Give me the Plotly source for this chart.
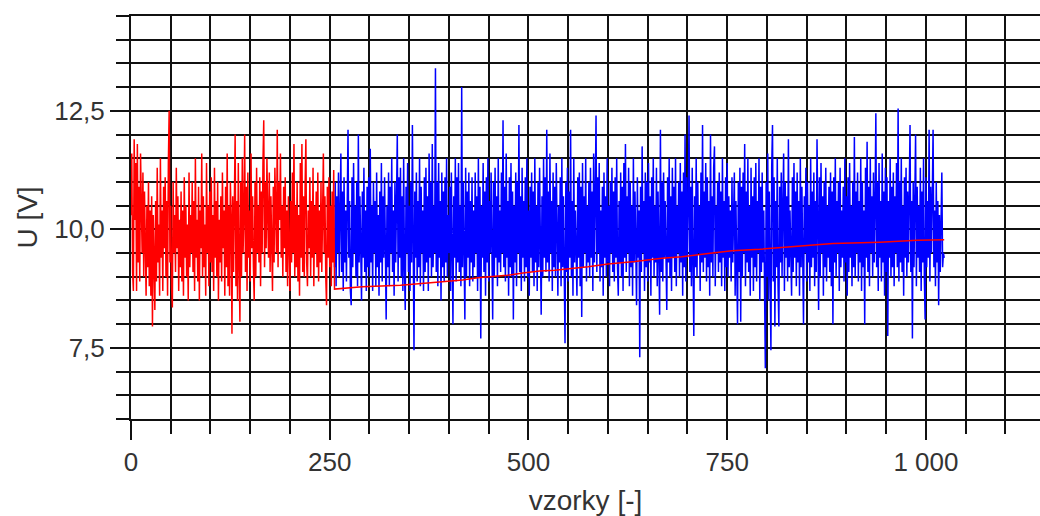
import plotly.graph_objects as go

# Red measured signal, samples 0..255
red_noise = [
    10.3, 11.6, 9.1, 8.7, 11.9, 10.2, 11.4, 8.7, 11.8, 9.3, 10.9, 8.9, 11.6, 10.1, 9.5, 11.2,
    9.0, 10.8, 9.6, 8.6, 10.5, 9.2, 11.0, 8.8, 10.4, 8.6, 10.7, 7.95, 10.3, 9.1, 8.3, 10.6,
    8.9, 11.3, 9.3, 10.1, 8.6, 11.5, 9.4, 10.4, 8.7, 10.9, 9.6, 11.1, 9.0, 10.6, 8.6, 11.4,
    12.5, 9.3, 10.5, 8.8, 8.35, 11.0, 9.5, 10.3, 9.1, 11.3, 9.6, 10.7, 8.7, 10.2, 9.2, 10.8,
    8.9, 10.4, 8.6, 11.1, 9.4, 10.5, 9.0, 10.1, 8.5, 11.2, 9.2, 10.3, 9.5, 11.0, 9.1, 10.6,
    8.7, 11.5, 9.4, 10.2, 8.9, 10.9, 8.5, 10.4, 9.6, 11.6, 9.0, 10.7, 9.2, 10.1, 8.6, 11.4,
    9.5, 10.5, 8.8, 10.8, 9.3, 11.1, 9.1, 10.3, 8.7, 11.3, 9.4, 10.6, 9.0, 11.0, 8.5, 10.2,
    9.3, 10.7, 8.9, 11.2, 9.6, 10.4, 8.6, 10.9, 9.2, 11.6, 8.8, 10.5, 8.6, 11.0, 10.3, 7.8,
    10.7, 9.1, 11.1, 12.0, 8.8, 10.6, 8.5, 11.4, 9.3, 8.05, 11.0, 9.0, 11.5, 9.5, 10.3, 12.0,
    9.1, 10.9, 8.7, 11.2, 9.4, 10.4, 8.9, 11.6, 9.6, 10.7, 9.2, 8.5, 11.0, 9.0, 11.3, 9.5,
    10.5, 9.3, 11.1, 8.8, 10.8, 9.5, 11.4, 12.3, 9.2, 11.0, 9.6, 11.5, 10.3, 9.4, 11.2, 9.1,
    10.7, 8.9, 8.7, 10.9, 9.3, 11.3, 10.1, 9.5, 12.1, 9.2, 11.0, 10.2, 11.6, 9.4, 10.5, 9.0,
    10.9, 9.6, 11.1, 9.1, 10.4, 8.8, 10.7, 9.4, 8.7, 10.6, 9.3, 11.2, 9.5, 11.8, 9.0, 10.5,
    9.2, 11.0, 8.9, 10.3, 8.6, 11.4, 9.4, 11.8, 9.1, 10.7, 9.0, 10.9, 11.9, 9.3, 8.8, 10.4,
    9.6, 11.1, 9.0, 10.6, 9.4, 11.3, 8.8, 10.5, 9.5, 10.8, 9.2, 11.2, 8.9, 10.4, 9.3, 11.0,
    9.1, 10.3, 11.6, 9.5, 10.7, 9.0, 8.4, 10.9, 9.4, 11.1, 9.2, 10.5, 8.8, 10.8, 9.3, 11.25,
]

# Red slowly rising trend after sample 256 (read at its step points)
trend_x = [256, 291, 339, 373, 417, 436, 473, 493, 514, 533, 575, 600,
           634, 668, 693, 726, 756, 791, 826, 850, 883, 942, 989, 1023]
trend_y = [8.74, 8.79, 8.82, 8.87, 8.93, 8.98, 9.03, 9.08, 9.12, 9.14, 9.21, 9.27,
           9.32, 9.39, 9.42, 9.49, 9.55, 9.58, 9.62, 9.66, 9.70, 9.73, 9.77, 9.78]

# Blue measured signal, samples 256..1023
blue_start = 256
blue_vals = [
    9.2, 11.0, 8.8, 10.7, 9.5, 11.2, 9.0, 10.5, 11.6, 9.1, 10.8, 8.7, 11.1, 9.3, 10.4, 8.9,
    10.9, 12.1, 9.4, 10.6, 8.7, 8.4, 11.1, 9.2, 11.4, 9.5, 10.5, 9.0, 11.0, 8.8, 12.0, 9.3,
    10.7, 8.9, 8.5, 10.8, 9.4, 11.3, 9.1, 10.4, 8.7, 10.9, 9.2, 11.1, 9.0, 11.7, 9.3, 10.5,
    8.7, 11.0, 9.5, 10.6, 8.8, 11.2, 9.2, 10.3, 8.6, 10.8, 9.3, 11.4, 8.9, 10.7, 9.4, 11.1,
    9.0, 8.1, 10.5, 9.2, 11.2, 8.8, 10.9, 9.5, 11.5, 9.1, 10.4, 8.6, 11.0, 9.3, 10.6, 12.0,
    8.9, 11.1, 9.4, 11.3, 9.0, 10.7, 8.7, 11.5, 9.2, 8.3, 10.9, 9.5, 11.4, 9.1, 10.5, 8.7,
    11.0, 9.3, 12.2, 9.0, 7.45, 10.8, 9.4, 11.2, 8.9, 10.6, 9.2, 11.5, 8.8, 10.9, 9.5, 10.4,
    8.7, 11.1, 9.1, 11.3, 9.3, 10.7, 8.7, 11.6, 9.4, 11.0, 9.0, 11.8, 9.2, 10.5, 9.5, 13.4,
    9.1, 11.0, 8.8, 11.4, 9.4, 10.6, 8.5, 11.2, 9.2, 10.8, 8.9, 11.1, 9.3, 11.5, 9.0, 10.3,
    9.5, 10.9, 8.7, 11.2, 9.2, 8.0, 10.7, 9.4, 11.5, 8.9, 11.1, 9.3, 11.4, 9.1, 10.5, 8.8,
    13.0, 9.2, 11.0, 9.5, 8.1, 11.3, 9.0, 10.8, 9.4, 11.2, 8.8, 10.6, 9.3, 11.1, 8.9, 10.4,
    9.2, 11.2, 9.5, 10.7, 8.7, 11.5, 9.0, 10.9, 7.7, 10.5, 9.4, 11.4, 9.1, 10.8, 8.6, 11.1,
    9.3, 11.5, 8.9, 10.6, 9.5, 11.2, 9.2, 8.1, 11.0, 9.0, 11.3, 9.4, 10.7, 8.8, 11.5, 9.3,
    10.4, 9.1, 11.2, 9.5, 12.3, 9.2, 10.9, 8.9, 11.6, 9.4, 10.6, 8.6, 11.1, 9.2, 11.4, 9.0,
    10.8, 8.1, 10.5, 9.3, 11.2, 8.8, 11.0, 9.5, 12.2, 9.1, 10.7, 8.7, 11.3, 9.4, 10.6, 8.9,
    11.1, 9.2, 11.5, 9.0, 10.4, 8.6, 10.9, 9.4, 11.2, 9.1, 10.8, 8.8, 11.5, 9.3, 10.5, 8.7,
    11.0, 9.2, 11.3, 9.5, 8.2, 10.7, 9.0, 11.5, 9.4, 11.1, 9.1, 12.1, 9.3, 10.8, 8.9, 11.6,
    9.5, 10.6, 8.7, 11.2, 9.2, 10.9, 9.0, 11.4, 9.4, 8.6, 10.5, 9.3, 11.1, 8.8, 11.5, 9.2,
    10.7, 9.5, 7.6, 11.0, 9.1, 11.3, 8.9, 10.8, 9.4, 12.1, 9.0, 10.6, 8.6, 11.5, 9.3, 10.4,
    9.1, 8.6, 11.1, 9.4, 11.2, 8.8, 10.9, 8.15, 11.4, 9.2, 10.7, 9.5, 11.5, 8.9, 10.5, 9.3,
    11.0, 9.0, 11.3, 9.4, 10.8, 8.7, 11.6, 9.3, 10.6, 12.4, 9.1, 11.1, 9.5, 11.4, 8.9, 10.4,
    9.2, 10.9, 8.6, 11.2, 9.4, 10.7, 9.0, 11.5, 9.3, 10.5, 8.8, 11.0, 9.5, 11.3, 9.1, 10.8,
    8.9, 11.1, 9.4, 11.5, 9.2, 8.6, 10.6, 9.3, 11.2, 9.0, 10.9, 8.7, 11.4, 9.4, 11.8, 9.1,
    10.7, 9.5, 11.3, 8.8, 11.0, 9.2, 10.5, 8.6, 11.5, 9.3, 10.8, 9.0, 8.4, 11.1, 9.4, 10.4,
    7.3, 10.9, 9.1, 11.75, 9.5, 10.6, 8.7, 11.2, 9.2, 11.0, 8.9, 11.4, 9.3, 10.7, 8.6, 11.1,
    9.4, 11.5, 9.0, 10.5, 9.3, 11.3, 8.8, 10.8, 9.5, 8.2, 12.1, 9.1, 11.0, 8.9, 11.2, 9.4,
    10.6, 9.2, 8.3, 11.1, 9.3, 11.5, 9.0, 10.7, 8.7, 11.3, 9.4, 10.9, 9.1, 11.5, 8.8, 10.5,
    9.5, 11.0, 9.0, 11.4, 9.3, 10.8, 8.6, 11.2, 9.2, 12.0, 8.9, 11.1, 9.4, 10.6, 12.4, 9.1,
    10.9, 8.8, 11.3, 9.4, 7.75, 10.7, 9.2, 11.5, 9.0, 11.0, 9.5, 10.5, 8.7, 11.2, 9.3, 12.2,
    9.1, 10.8, 9.4, 11.4, 8.9, 11.1, 9.2, 10.6, 8.6, 12.0, 9.3, 10.7, 9.0, 11.3, 11.75, 8.8,
    10.5, 9.5, 11.0, 9.1, 11.2, 9.3, 10.8, 8.8, 11.5, 9.4, 10.6, 8.7, 11.1, 9.2, 11.4, 9.0,
    10.7, 9.4, 10.4, 8.9, 11.1, 9.3, 10.8, 11.2, 8.6, 10.6, 9.2, 8.0, 11.0, 9.1, 11.3, 8.05,
    10.9, 9.0, 11.2, 9.5, 11.8, 8.8, 10.8, 9.3, 11.5, 9.1, 10.5, 8.6, 11.3, 9.4, 10.7, 8.7,
    11.1, 9.2, 11.4, 8.9, 10.6, 9.5, 11.5, 8.5, 10.9, 9.1, 11.2, 9.3, 10.4, 8.6, 7.07, 11.0,
    9.0, 11.6, 8.5, 10.8, 9.4, 7.45, 11.3, 12.2, 8.9, 11.1, 7.95, 10.6, 9.2, 11.5, 8.8, 7.95,
    10.9, 9.3, 11.2, 9.0, 10.5, 11.6, 8.7, 11.0, 9.4, 10.7, 8.9, 11.9, 9.2, 10.4, 9.5, 8.6,
    11.1, 9.1, 11.4, 9.4, 10.8, 8.8, 11.2, 9.3, 10.6, 8.6, 11.5, 9.2, 10.9, 9.0, 8.0, 10.7,
    9.5, 11.3, 8.9, 11.0, 9.3, 10.5, 8.7, 11.5, 9.2, 10.8, 9.4, 11.2, 8.8, 10.6, 9.1, 11.9,
    9.3, 8.3, 11.1, 9.0, 11.4, 9.5, 10.7, 8.6, 11.0, 9.2, 11.3, 8.9, 10.5, 9.4, 10.9, 9.1,
    11.2, 8.8, 10.8, 8.0, 11.1, 9.3, 11.5, 9.0, 10.6, 9.5, 11.0, 8.7, 11.3, 9.2, 10.4, 9.4,
    10.9, 8.9, 11.5, 9.3, 10.7, 8.6, 11.1, 9.1, 11.4, 9.4, 10.5, 8.8, 11.0, 9.2, 11.95, 9.0,
    10.8, 9.5, 11.2, 8.9, 10.6, 9.3, 11.5, 8.7, 11.0, 9.2, 10.4, 8.0, 11.3, 9.4, 11.85, 9.1,
    10.9, 8.8, 11.5, 9.5, 10.7, 9.0, 11.2, 9.3, 10.5, 12.45, 9.2, 11.0, 8.7, 11.4, 9.4, 10.6,
    8.9, 11.6, 9.3, 10.8, 8.6, 11.3, 9.1, 11.1, 7.75, 10.6, 9.4, 11.5, 9.0, 10.9, 9.2, 11.2,
    8.8, 10.7, 9.5, 11.4, 9.2, 12.55, 8.9, 11.0, 9.3, 11.5, 9.1, 10.5, 8.6, 11.1, 9.4, 11.3,
    9.0, 10.8, 9.3, 11.2, 12.2, 9.1, 10.6, 7.7, 11.0, 9.2, 11.5, 12.0, 8.8, 10.9, 9.4, 10.5,
    9.1, 11.3, 8.7, 10.8, 9.3, 11.5, 9.0, 8.1, 11.1, 9.2, 10.6, 9.4, 12.1, 8.9, 10.9, 9.5,
    10.7, 12.1, 9.2, 10.4, 8.8, 11.0, 9.3, 10.6, 8.4, 10.3, 9.1, 10.0, 11.2, 9.2, 9.5, 9.4,
]

assert len(red_noise) == 256, len(red_noise)
assert len(blue_vals) == 768, len(blue_vals)

x_ticks_major = [0, 250, 500, 750, 1000]
y_ticks_major = [7.5, 10.0, 12.5]

red_x = list(range(len(red_noise))) + trend_x
red_y = red_noise + trend_y
blue_x = list(range(blue_start, blue_start + len(blue_vals)))

fig = go.Figure()
fig.add_trace(go.Scatter(x=blue_x, y=blue_vals, mode="lines",
                         line=dict(color="#0000FF", width=1.5), hoverinfo="skip"))
fig.add_trace(go.Scatter(x=red_x, y=red_y, mode="lines",
                         line=dict(color="#FF0000", width=1.5), hoverinfo="skip"))

tick_font = dict(family="Liberation Sans, Arial, sans-serif", size=26, color="#333333")
title_font = dict(family="Liberation Sans, Arial, sans-serif", size=28, color="#333333")
grid = "#111111"

fig.update_layout(
    width=1040, height=516,
    margin=dict(l=131, r=0, t=16, b=97),
    paper_bgcolor="white", plot_bgcolor="white",
    showlegend=False,
    separators=", ",
    font=tick_font,
    xaxis=dict(
        range=[0, 1143.5],
        tickmode="array", tickvals=x_ticks_major, tickformat=",d",
        ticks="outside", ticklen=19, tickwidth=2, tickcolor=grid,
        showgrid=True, gridcolor=grid, gridwidth=2,
        zeroline=False, showline=True, linecolor=grid, linewidth=2, mirror=True,
        minor=dict(dtick=50, tick0=0, ticks="outside", ticklen=13, tickwidth=2,
                   tickcolor=grid, showgrid=True, gridcolor=grid, gridwidth=2),
        tickfont=tick_font,
        title=dict(text="vzorky [-]", font=title_font, standoff=16),
    ),
    yaxis=dict(
        range=[6.0, 14.5],
        tickmode="array", tickvals=y_ticks_major, tickformat=".1f",
        ticks="outside", ticklen=19, tickwidth=2, tickcolor=grid,
        showgrid=True, gridcolor=grid, gridwidth=2,
        zeroline=False, showline=True, linecolor=grid, linewidth=2,
        minor=dict(dtick=0.5, tick0=0, ticks="outside", ticklen=13, tickwidth=2,
                   tickcolor=grid, showgrid=True, gridcolor=grid, gridwidth=2),
        tickfont=tick_font,
        title=dict(text="U [V]", font=title_font, standoff=8),
    ),
)

fig.write_html(
    "out.html",
    config={"displayModeBar": False, "staticPlot": True},
    post_script="document.body.style.margin='0';document.body.style.overflow='hidden';",
)
